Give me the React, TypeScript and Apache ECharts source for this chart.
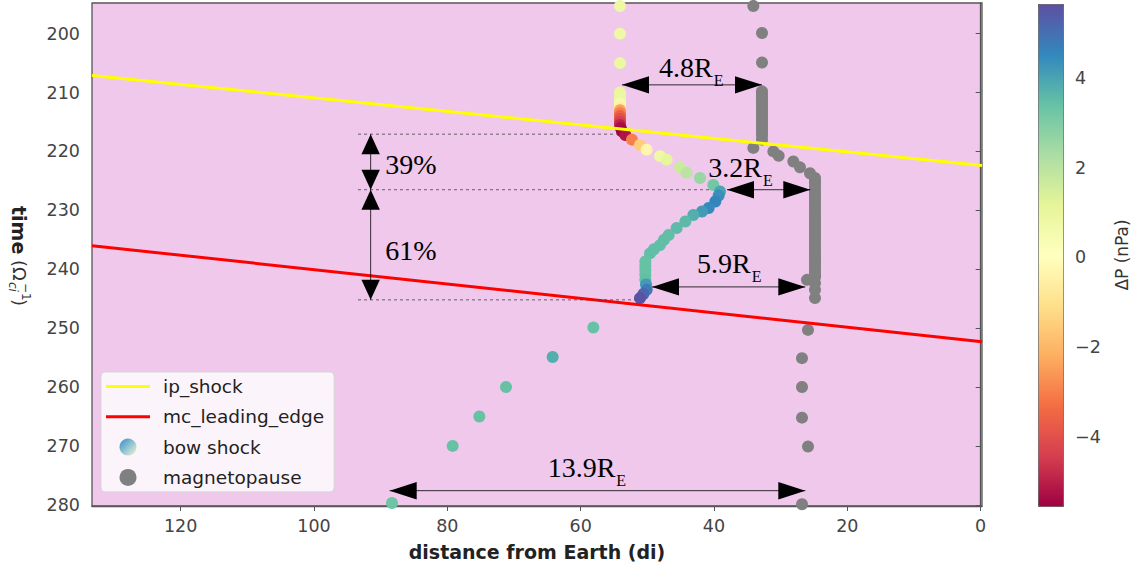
import React, { useEffect, useRef } from 'react';
import * as echarts from 'echarts';

// ---------- data ----------
const xTicks = [0, 20, 40, 60, 80, 100, 120];
const yTicks = [200, 210, 220, 230, 240, 250, 260, 270, 280];
const cbTicks = [-4, -2, 0, 2, 4];

// [distance, time, dP]
const bowShock = [
  [54.1, 195.3, 0.8], [54.1, 200.0, 0.8], [54.1, 205.0, 0.9],
  [54.1, 210.0, 1.0], [54.1, 210.5, 1.0], [54.1, 211.0, 0.9], [54.1, 211.5, 0.8],
  [54.1, 212.0, 0.5], [54.1, 212.5, -0.5], [54.1, 213.0, -2.4], [54.1, 213.5, -3.0],
  [54.1, 214.0, -3.6], [54.1, 214.5, -4.0], [54.1, 215.0, -4.4], [54.1, 215.5, -4.9],
  [54.0, 216.0, -5.3], [53.8, 216.6, -5.5], [53.3, 217.2, -5.2], [52.3, 218.0, -3.0],
  [51.1, 218.9, -1.5], [50.1, 219.7, -0.3], [48.1, 220.8, 0.8], [47.1, 221.4, 1.1],
  [45.1, 222.7, 1.7], [44.1, 223.6, 2.0], [42.1, 224.5, 2.6], [40.1, 225.7, 3.2],
  [39.1, 226.8, 4.0], [39.3, 227.5, 4.4], [39.8, 228.5, 4.6], [40.8, 229.6, 4.5],
  [41.8, 230.2, 4.2], [43.1, 230.8, 3.8], [44.3, 231.9, 3.6], [45.6, 233.0, 3.6],
  [46.8, 234.2, 3.5], [47.5, 235.0, 3.5], [48.1, 235.9, 3.5], [49.0, 236.6, 3.5],
  [49.6, 237.3, 3.5], [50.3, 238.7, 3.4], [50.3, 239.4, 3.4], [50.3, 240.1, 3.4],
  [50.3, 240.9, 3.4], [50.3, 241.8, 3.5], [50.2, 242.6, 4.2], [50.1, 243.5, 4.8],
  [50.6, 244.2, 5.2], [51.1, 244.9, 5.6],
  [58.1, 249.9, 3.4], [64.2, 254.9, 3.8], [71.2, 260.0, 3.4], [75.2, 265.0, 3.4],
  [79.2, 270.0, 3.4], [88.3, 279.7, 3.3],
];

// [distance, time]
const magnetopause = [
  [34.1, 195.3], [32.8, 199.9], [32.8, 204.9],
  [32.8, 209.8], [32.8, 210.3], [32.8, 210.8], [32.8, 211.3], [32.8, 211.8],
  [32.8, 212.3], [32.8, 212.8], [32.8, 213.3], [32.8, 213.8], [32.8, 214.3],
  [32.8, 214.8], [32.8, 215.3], [32.8, 215.8], [32.8, 216.3], [32.8, 216.8],
  [32.8, 217.3], [32.8, 218.0],
  [34.1, 219.4], [31.1, 220.0], [30.3, 220.75], [28.1, 221.7], [27.1, 222.7], [25.6, 223.7],
  [24.85, 224.5], [24.85, 225.0], [24.85, 225.5], [24.85, 226.0], [24.85, 226.5],
  [24.85, 227.0], [24.85, 227.5], [24.85, 228.0], [24.85, 228.5], [24.85, 229.0],
  [24.85, 229.5], [24.85, 230.0], [24.85, 230.5], [24.85, 231.0], [24.85, 231.5],
  [24.85, 232.0], [24.85, 232.5], [24.85, 233.0], [24.85, 233.5], [24.85, 234.0],
  [24.85, 234.5], [24.85, 235.0], [24.85, 235.5], [24.85, 236.0], [24.85, 236.5],
  [24.85, 237.0], [24.85, 237.5], [24.85, 238.0], [24.85, 238.5], [24.85, 239.0],
  [24.85, 239.5], [24.85, 240.0], [24.85, 240.5], [24.85, 241.0], [24.85, 241.3],
  [26.05, 241.8], [24.85, 242.4], [24.85, 243.5], [24.85, 244.9],
  [25.9, 250.3], [26.8, 255.1], [26.8, 260.0], [26.8, 265.2], [25.9, 270.1], [26.8, 279.9],
];

const ipShock = [[133.3, 207.1], [-0.2, 222.4]];
const mcLeadingEdge = [[133.3, 236.0], [-0.2, 252.3]];

// annotation arrows: [x1, t1, x2, t2]
const arrowSegments = [
  [53.8, 208.7, 32.8, 208.7],
  [38.05, 226.5, 25.55, 226.5],
  [49.3, 243.0, 26.3, 243.0],
  [88.65, 277.6, 26.3, 277.6],
  [91.5, 217.07, 91.5, 226.5],
  [91.5, 226.5, 91.5, 245.2],
];
// dashed guides: [xFrom, xTo, t]
const guideLines = [
  [93.4, 54.6, 217.07],
  [93.4, 40.6, 226.5],
  [93.4, 51.8, 245.2],
];
// labels: [x, t, main, subscript]
const annotLabels: [number, number, string, string][] = [
  [40.2, 205.8, '4.8R', 'E'],
  [32.8, 222.7, '3.2R', 'E'],
  [34.5, 239.1, '5.9R', 'E'],
  [54.8, 273.6, '13.9R', 'E'],
  [89.3, 222.3, '39%', ''],
  [89.3, 236.8, '61%', ''],
];

const spectral = ['#9e0142', '#d53e4f', '#f46d43', '#fdae61', '#fee08b', '#ffffbf',
  '#e6f598', '#abdda4', '#66c2a5', '#3288bd', '#5e4fa2'];

const FONT = '"DejaVu Sans", sans-serif';
const SERIF = '"Liberation Serif", serif';
const LINE_ICON = 'path://M0,0H100V7H0Z';

export default function App() {
  const ref = useRef<HTMLDivElement>(null);
  useEffect(() => {
    const chart = echarts.init(ref.current!, null, { renderer: 'svg' });
    const option: any = {
      animation: false,
      grid: [
        { left: 92, top: 3, width: 890, height: 503, show: true, backgroundColor: '#efc8eb', borderColor: '#555', borderWidth: 1.3 },
        { left: 1038, top: 4, width: 25, height: 502, show: false },
      ],
      xAxis: [
        {
          type: 'value', inverse: true, min: -0.2, max: 133.3, gridIndex: 0,
          axisLine: { show: true, lineStyle: { color: '#555', width: 1.3 } },
          axisTick: { show: true, length: 5, customValues: xTicks, lineStyle: { color: '#555' } },
          axisLabel: { customValues: xTicks, color: '#444', fontSize: 17.5, fontFamily: FONT, margin: 11 },
          splitLine: { show: false },
          name: 'distance from Earth (di)', nameLocation: 'middle', nameGap: 36,
          nameTextStyle: { fontWeight: 'bold', fontSize: 19, color: '#222', fontFamily: FONT },
        },
        { type: 'value', gridIndex: 1, show: false, min: 0, max: 1 },
      ],
      yAxis: [
        {
          type: 'value', inverse: true, min: 194.8, max: 280.2, gridIndex: 0,
          axisLine: { show: true, lineStyle: { color: '#555', width: 1.3 } },
          axisTick: { show: true, length: 5, customValues: yTicks, lineStyle: { color: '#555' } },
          axisLabel: { customValues: yTicks, color: '#444', fontSize: 17.5, fontFamily: FONT, margin: 12 },
          splitLine: { show: false },
        },
        {
          type: 'value', gridIndex: 1, position: 'right', min: -5.55, max: 5.66,
          axisLine: { show: false },
          axisTick: { show: true, length: 5, customValues: cbTicks, lineStyle: { color: '#555' } },
          axisLabel: {
            customValues: cbTicks, color: '#444', fontSize: 17.5, fontFamily: FONT, margin: 12,
            formatter: (v: number) => (v < 0 ? '\u2212' + Math.abs(v) : String(v)),
          },
          splitLine: { show: false },
          name: '\u0394P (nPa)', nameLocation: 'middle', nameRotate: 90, nameGap: 50,
          nameTextStyle: { fontSize: 17, color: '#333', fontFamily: FONT },
        },
      ],
      visualMap: {
        type: 'continuous', min: -5.55, max: 5.66, dimension: 2, seriesIndex: 0,
        left: 1038, top: 4, itemWidth: 25, itemHeight: 502, padding: 0,
        calculable: false, orient: 'vertical',
        inRange: { color: spectral },
        borderColor: '#555', borderWidth: 1,
      },
      legend: {
        orient: 'vertical', left: 101, top: 372,
        padding: [5, 10, 5, 5], itemGap: 11.3, itemWidth: 44, itemHeight: 17,
        backgroundColor: 'rgba(255,255,255,0.8)', borderColor: '#d5d5d5', borderWidth: 1, borderRadius: 4,
        textStyle: { fontSize: 18.5, color: '#222', fontFamily: FONT, padding: [0, 0, 0, 8] },
        data: [
          { name: 'ip_shock', icon: LINE_ICON, itemStyle: { color: '#ffff00' } },
          { name: 'mc_leading_edge', icon: LINE_ICON, itemStyle: { color: '#ff0000' } },
          {
            name: 'bow shock', icon: 'circle',
            itemStyle: {
              color: new echarts.graphic.LinearGradient(0, 0, 1, 1, [
                { offset: 0, color: '#2f8fc8' }, { offset: 1, color: '#f4f6d8' },
              ]),
            },
          },
          { name: 'magnetopause', icon: 'circle', itemStyle: { color: '#808080' } },
        ],
      },
      graphic: [
        {
          type: 'group', x: 19, y: 206, rotation: -Math.PI / 2,
          children: [
            { type: 'text', x: 0, y: 0, style: { text: 'time', font: `bold 19px ${FONT}`, fill: '#222', align: 'left', verticalAlign: 'middle' } },
            { type: 'text', x: 54, y: 0, style: { text: '(\u03A9', font: `18px ${FONT}`, fill: '#333', align: 'left', verticalAlign: 'middle' } },
            { type: 'text', x: 76, y: 6, style: { text: 'ci', font: `italic 12px ${FONT}`, fill: '#333', align: 'left', verticalAlign: 'middle' } },
            { type: 'text', x: 77, y: -7, style: { text: '\u22121', font: `12px ${FONT}`, fill: '#333', align: 'left', verticalAlign: 'middle' } },
            { type: 'text', x: 93, y: 0, style: { text: ')', font: `18px ${FONT}`, fill: '#333', align: 'left', verticalAlign: 'middle' } },
          ],
        },
      ],
      series: [
        {
          name: 'bow shock', type: 'scatter', data: bowShock, symbolSize: 12,
          itemStyle: { opacity: 1 }, z: 2,
        },
        {
          name: 'magnetopause', type: 'scatter', data: magnetopause, symbolSize: 12,
          itemStyle: { color: '#808080', opacity: 1 }, z: 2,
        },
        {
          name: 'ip_shock', type: 'line', data: ipShock, showSymbol: false, symbol: 'none',
          lineStyle: { color: '#ffff00', width: 3 }, itemStyle: { color: '#ffff00' }, z: 3,
        },
        {
          name: 'mc_leading_edge', type: 'line', data: mcLeadingEdge, showSymbol: false, symbol: 'none',
          lineStyle: { color: '#ff0000', width: 3 }, itemStyle: { color: '#ff0000' }, z: 3,
        },
        {
          type: 'custom', silent: true, z: 4, data: guideLines,
          renderItem: (params: any, api: any) => {
            const g = guideLines[params.dataIndex];
            const a = api.coord([g[0], g[2]]);
            const b = api.coord([g[1], g[2]]);
            return {
              type: 'line', shape: { x1: a[0], y1: a[1], x2: b[0], y2: b[1] },
              style: { stroke: '#444', lineWidth: 0.8, lineDash: [3, 3] },
            };
          },
        },
        {
          type: 'custom', silent: true, z: 5, data: arrowSegments,
          renderItem: (params: any, api: any) => {
            const s = arrowSegments[params.dataIndex];
            const a = api.coord([s[0], s[1]]);
            const b = api.coord([s[2], s[3]]);
            const dx = b[0] - a[0];
            const dy = b[1] - a[1];
            const len = Math.sqrt(dx * dx + dy * dy);
            const ux = dx / len, uy = dy / len;
            const horiz = Math.abs(dx) > Math.abs(dy);
            const hl = horiz ? 27 : 20;
            const hw = horiz ? 8.7 : 9.2;
            const head = (tip: number[], dirx: number, diry: number) => {
              const bx = tip[0] - dirx * hl, by = tip[1] - diry * hl;
              return {
                type: 'polygon',
                shape: { points: [[tip[0], tip[1]], [bx - diry * hw, by + dirx * hw], [bx + diry * hw, by - dirx * hw]] },
                style: { fill: '#000' },
              };
            };
            return {
              type: 'group',
              children: [
                { type: 'line', shape: { x1: a[0], y1: a[1], x2: b[0], y2: b[1] }, style: { stroke: '#000', lineWidth: 0.8 } },
                head(a, -ux, -uy),
                head(b, ux, uy),
              ],
            };
          },
        },
        {
          type: 'custom', silent: true, z: 6, data: annotLabels.map((l) => [l[0], l[1]]),
          renderItem: (params: any, api: any) => {
            const l = annotLabels[params.dataIndex];
            const p = api.coord([l[0], l[1]]);
            if (!l[3]) {
              return {
                type: 'text', x: p[0], y: p[1],
                style: { text: l[2], font: `28px ${SERIF}`, fill: '#000', align: 'left', verticalAlign: 'middle' },
              };
            }
            return {
              type: 'group',
              children: [
                { type: 'text', x: p[0], y: p[1], style: { text: l[2], font: `28px ${SERIF}`, fill: '#000', align: 'right', verticalAlign: 'middle' } },
                { type: 'text', x: p[0] + 1, y: p[1] + 13, style: { text: l[3], font: `16px ${SERIF}`, fill: '#000', align: 'left', verticalAlign: 'middle' } },
              ],
            };
          },
        },
      ],
    };
    chart.setOption(option);
    return () => chart.dispose();
  }, []);
  return <div ref={ref} style={{ position: 'absolute', left: 0, top: 0, width: 1136, height: 569 }} />;
}
